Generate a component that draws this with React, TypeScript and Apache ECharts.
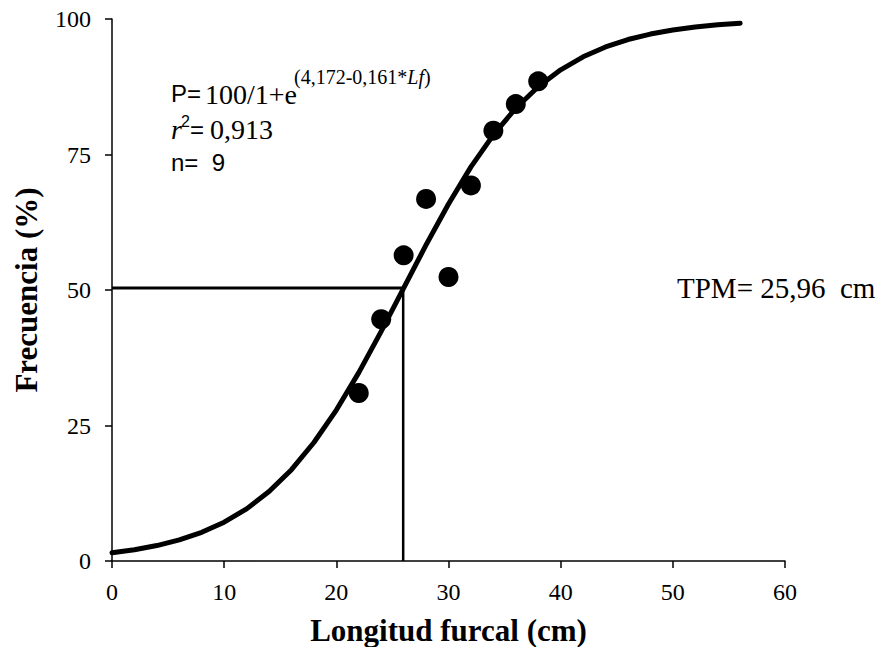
import React, { useEffect, useRef } from "react";
import * as echarts from "echarts";

// Observed maturity frequency by fork length
const lengthCm = [22, 24, 26, 28, 30, 32, 34, 36, 38];
const frequencyPct = [31, 44.6, 56.4, 66.8, 52.4, 69.3, 79.4, 84.3, 88.5];

// Fitted logistic curve, sampled every 2 cm
const curveLength = [
  0, 2, 4, 6, 8, 10, 12, 14, 16, 18, 20, 22, 24, 26, 28, 30, 32, 34, 36, 38,
  40, 42, 44, 46, 48, 50, 52, 54, 56,
];
const curvePct = [
  1.52, 2.08, 2.85, 3.89, 5.3, 7.16, 9.62, 12.81, 16.85, 21.86, 27.85, 34.75,
  42.36, 50.35, 58.32, 65.88, 72.71, 78.62, 83.54, 87.5, 90.62, 93.02, 94.84,
  96.21, 97.22, 97.97, 98.52, 98.92, 99.22,
];

// Length at 50 % maturity
const tpmLength = 25.96;
const tpmPct = 50.35;

const xTicks = { min: 0, max: 60, interval: 10 };
const yTicks = { min: 0, max: 100, interval: 25 };

const SERIF = "Liberation Serif";
const SANS = "Liberation Sans";

function txt(left: number, top: number, text: string, family: string, size: number, italic = false) {
  return {
    type: "text",
    left,
    top,
    style: {
      text,
      fontFamily: family,
      fontSize: size,
      fontStyle: italic ? "italic" : "normal",
      fill: "#000",
    },
  };
}

export default function App() {
  const ref = useRef<HTMLDivElement>(null);

  useEffect(() => {
    if (!ref.current) return;
    const chart = echarts.init(ref.current, undefined, { renderer: "svg" });

    const label = { color: "#000", fontFamily: SERIF, fontSize: 24 };
    const axisCommon = {
      axisLine: { show: true, lineStyle: { color: "#000", width: 1.5 } },
      axisTick: { show: true, inside: false, length: 7, lineStyle: { color: "#000", width: 1.5 } },
      splitLine: { show: false },
      nameTextStyle: { color: "#000", fontFamily: SERIF, fontSize: 31, fontWeight: "bold" as const },
      nameLocation: "middle" as const,
    };

    chart.setOption({
      animation: false,
      backgroundColor: "#fff",
      grid: { left: 112, right: 103, top: 19, bottom: 94, containLabel: false },
      xAxis: {
        type: "value",
        ...xTicks,
        ...axisCommon,
        name: "Longitud furcal (cm)",
        nameGap: 54,
        axisLabel: { ...label, margin: 19 },
      },
      yAxis: {
        type: "value",
        ...yTicks,
        ...axisCommon,
        name: "Frecuencia (%)",
        nameGap: 70,
        axisLabel: { ...label, margin: 21 },
      },
      series: [
        {
          type: "line",
          data: curveLength.map((x, i) => [x, curvePct[i]]),
          showSymbol: false,
          lineStyle: { color: "#000", width: 5, cap: "round", join: "round" },
          z: 3,
        },
        {
          type: "line",
          data: [
            [xTicks.min, tpmPct],
            [tpmLength, tpmPct],
          ],
          showSymbol: false,
          lineStyle: { color: "#000", width: 3 },
          z: 2,
        },
        {
          type: "line",
          data: [
            [tpmLength, tpmPct],
            [tpmLength, yTicks.min],
          ],
          showSymbol: false,
          lineStyle: { color: "#000", width: 2.5 },
          z: 2,
        },
        {
          type: "scatter",
          data: lengthCm.map((x, i) => [x, frequencyPct[i]]),
          symbol: "circle",
          symbolSize: 20,
          itemStyle: { color: "#000", opacity: 1 },
          z: 4,
        },
      ],
      graphic: [
        txt(171, 81, "P=", SANS, 24),
        txt(205, 80, "100/1+e", SERIF, 28),
        {
          type: "text",
          left: 294,
          top: 67,
          style: {
            text: "{n|(4,172-0,161*}{i|Lf}{n|)}",
            fill: "#000",
            rich: {
              n: { fontFamily: SERIF, fontSize: 20, fill: "#000" },
              i: { fontFamily: SERIF, fontSize: 20, fontStyle: "italic", fill: "#000" },
            },
          },
        },
        txt(171, 115, "r", SERIF, 28, true),
        txt(181, 113, "2", SANS, 16),
        txt(190, 117, "=", SANS, 24),
        txt(210, 115, "0,913", SERIF, 28),
        txt(171, 150, "n=\u00a0 9", SANS, 24),
        txt(677, 273, "TPM= 25,96\u00a0 cm", SERIF, 29),
      ],
    });

    return () => chart.dispose();
  }, []);

  return <div ref={ref} style={{ width: 888, height: 655, margin: -8 }} />;
}
